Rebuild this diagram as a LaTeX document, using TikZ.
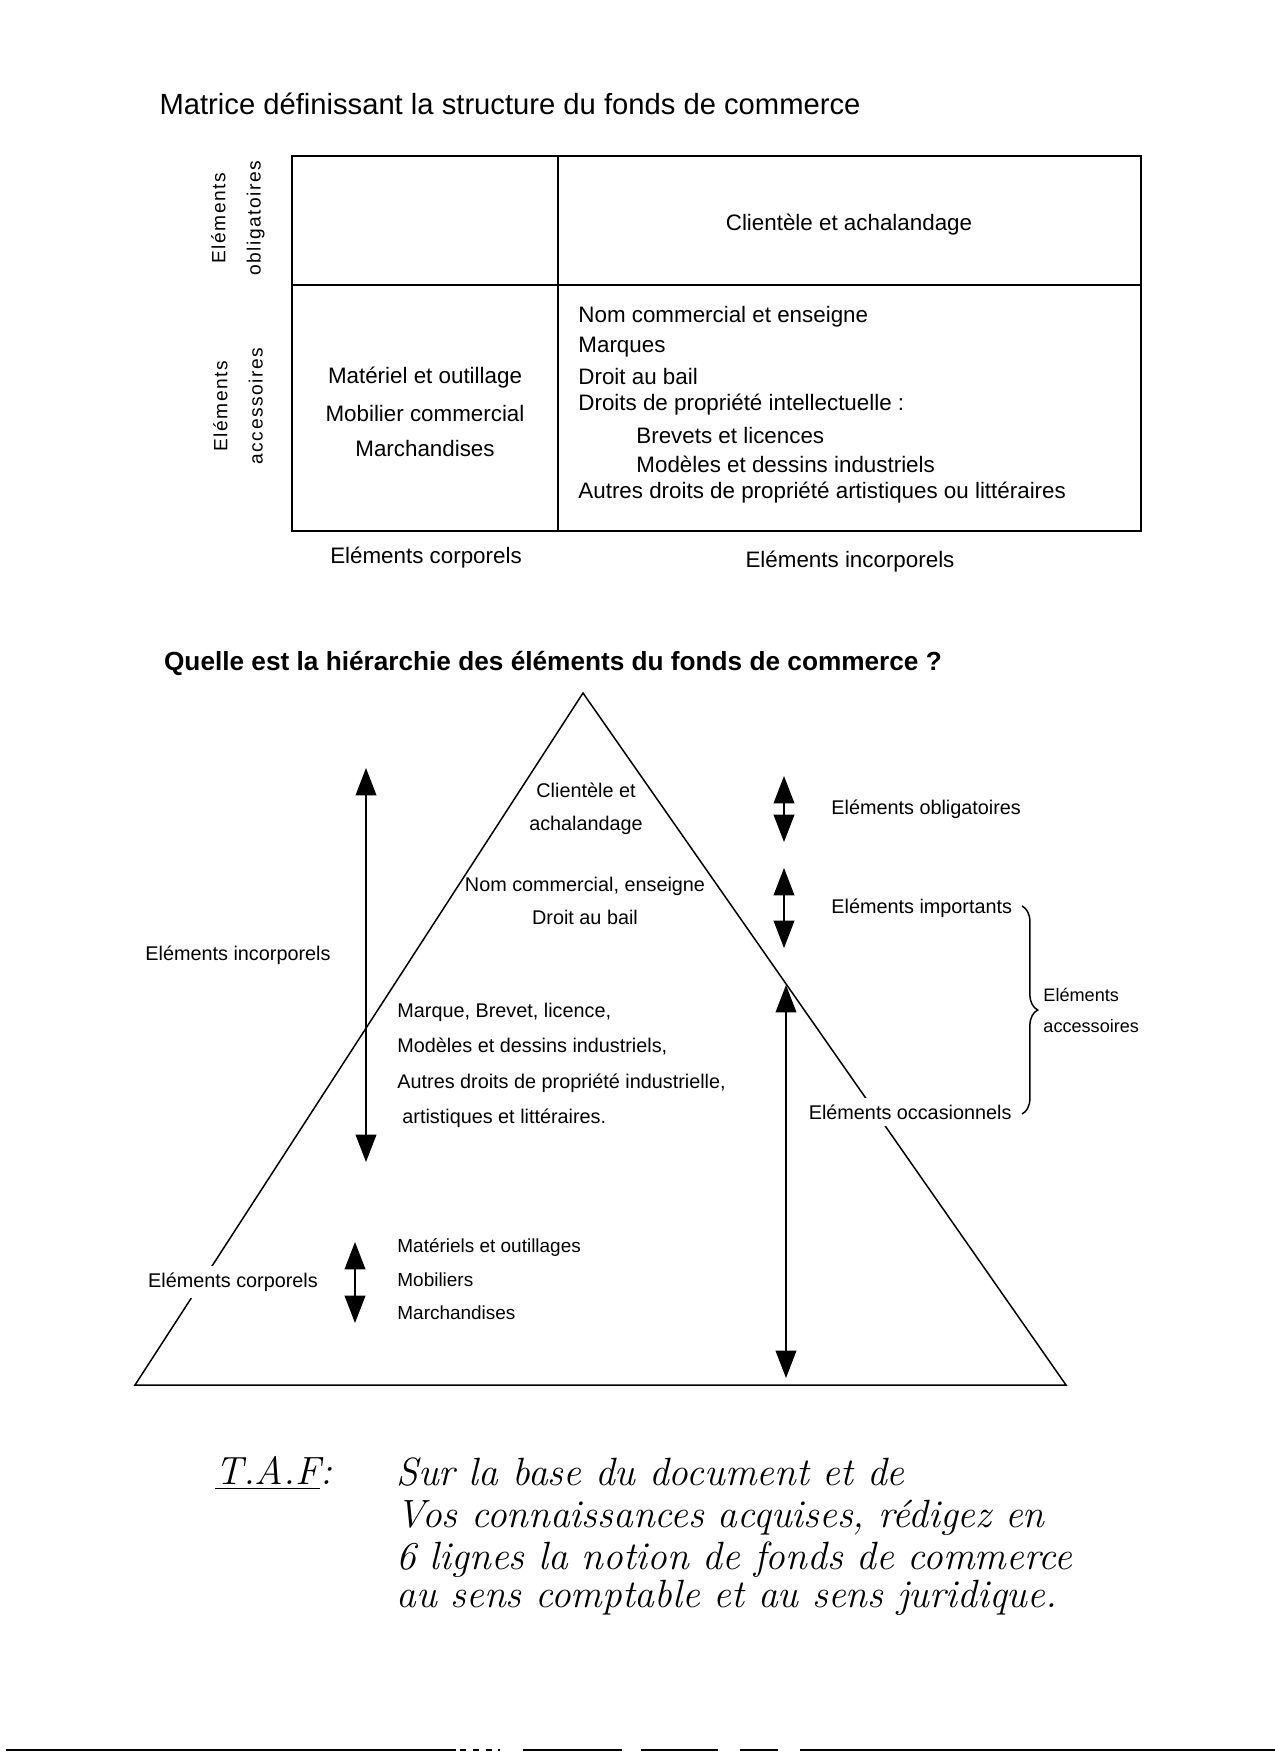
\documentclass[tikz,border=0pt]{standalone}
\usepackage{fontspec}
\setsansfont{Liberation Sans}
\newfontfamily\widesans{Liberation Sans}[LetterSpace=8]
\usepackage{tikz}
\usetikzlibrary{arrows.meta,decorations.pathreplacing}

\begin{document}
\begin{tikzpicture}[x=0.0165cm, y=-0.0165cm, font=\sffamily,
  mtx/.style={font=\sffamily\fontsize{10.5}{12.6}\selectfont, inner sep=0pt},
  pyr/.style={font=\sffamily\fontsize{9.3}{11}\selectfont, inner sep=0pt},
  side/.style={rotate=90, align=center, inner sep=0pt, font=\widesans\fontsize{9}{16.5}\selectfont},
  dbl/.style={{Triangle[length=0.45cm,width=0.34cm]}-{Triangle[length=0.45cm,width=0.34cm]}, line width=0.8pt},
  hand/.style={anchor=west, inner sep=0pt, font=\rmfamily\itshape\fontsize{18.5}{21}\selectfont}]
\useasboundingbox (0,0) rectangle (1275,1756);
% Matrix
\node[font=\sffamily\fontsize{13.7}{16}\selectfont] (title1) at (510,104) {Matrice définissant la structure du fonds de commerce};
\draw[line width=1pt] (292,156) rectangle (1141,531);
\draw[line width=1.4pt] (292,156) -- (1141,156);
\draw[line width=1pt] (292,285) -- (1141,285);
\draw[line width=1pt] (558,156) -- (558,531);
\node[side] (obl) at (238,218) {Eléments\\obligatoires};
\node[side] (acc) at (238,406) {Eléments\\accessoires};
\node[mtx] (client) at (849,225) {Clientèle et achalandage};
\node[mtx] (materiel) at (425,378) {Matériel et outillage};
\node[mtx] (mobilier) at (425,413) {Mobilier commercial};
\node[mtx] (marchand) at (425,448) {Marchandises};
\node[mtx, anchor=west] (nom) at (578,317) {Nom commercial et enseigne};
\node[mtx, anchor=west] (marques) at (578,347) {Marques};
\node[mtx, anchor=west] (bail) at (578,376) {Droit au bail};
\node[mtx, anchor=west] (droits) at (578,405) {Droits de propriété intellectuelle :};
\node[mtx, anchor=west] (brevets) at (636,435) {Brevets et licences};
\node[mtx, anchor=west] (modeles) at (636,464) {Modèles et dessins industriels};
\node[mtx, anchor=west] (autres) at (578,493) {Autres droits de propriété artistiques ou littéraires};
\node[mtx] (corp) at (426,558) {Eléments corporels};
\node[mtx] (incorp) at (850,562) {Eléments incorporels};

% Hierarchy pyramid
\node[font=\sffamily\bfseries\fontsize{12.3}{14}\selectfont] (title2) at (553,663) {Quelle est la hiérarchie des éléments du fonds de commerce ?};
\coordinate (apex) at (583,693);
\coordinate (baseL) at (135,1385);
\coordinate (baseR) at (1066,1385);
\draw[line width=0.7pt] (apex) -- (baseL) -- (baseR) -- cycle;
\node[pyr] (pclient) at (586,790) {Clientèle et};
\node[pyr] (pachal) at (586,825) {achalandage};
\node[pyr] (pnom) at (585,886) {Nom commercial, enseigne};
\node[pyr] (pbail) at (585,917) {Droit au bail};
\node[pyr, anchor=west] (pmarque) at (397,1012) {Marque, Brevet, licence,};
\node[pyr, anchor=west] (pmodele) at (397,1046) {Modèles et dessins industriels,};
\node[pyr, anchor=west] (pautres) at (397,1083) {Autres droits de propriété industrielle,};
\node[pyr, anchor=west] (partist) at (402,1118) {artistiques et littéraires.};
\node[pyr, font=\sffamily\fontsize{8.9}{11}\selectfont, anchor=west] (pmat) at (397,1247) {Matériels et outillages};
\node[pyr, font=\sffamily\fontsize{8.9}{11}\selectfont, anchor=west] (pmob) at (397,1280) {Mobiliers};
\node[pyr, font=\sffamily\fontsize{8.9}{11}\selectfont, anchor=west] (pmarch) at (397,1313) {Marchandises};
\node[pyr] (lincorp) at (238,955) {Eléments incorporels};
\node[pyr, fill=white, inner sep=3pt] (lcorp) at (233,1282) {Eléments corporels};
\node[pyr, anchor=west] (robl) at (831,809) {Eléments obligatoires};
\node[pyr, anchor=west] (rimp) at (831,908) {Eléments importants};
\node[pyr, anchor=west, fill=white, inner sep=3pt] (rocc) at (802,1112) {Eléments occasionnels};
\node[pyr, anchor=west, align=left, font=\sffamily\fontsize{8.5}{14.5}\selectfont] (racc) at (1043,1010) {Eléments\\accessoires};

% Arrows
\coordinate (incTop) at (366,768);
\coordinate (incBot) at (366,1162);
\coordinate (oblTop) at (784,776);
\coordinate (oblBot) at (784,842);
\coordinate (impTop) at (784,868);
\coordinate (impBot) at (784,948);
\coordinate (occTop) at (786,985);
\coordinate (occBot) at (786,1378);
\coordinate (corTop) at (355,1242);
\coordinate (corBot) at (355,1323);
\draw[dbl] (incTop) -- (incBot);
\draw[dbl] (oblTop) -- (oblBot);
\draw[dbl] (impTop) -- (impBot);
\draw[dbl] (occTop) -- (occBot);
\draw[dbl] (corTop) -- (corBot);
\coordinate (brTop) at (1022,906);
\coordinate (brBot) at (1022,1114);
\draw[line width=0.7pt, decorate, decoration={brace, amplitude=0.26cm}] (brTop) -- (brBot);

% T.A.F
\node[hand] (taf) at (215,1473) {\underline{T.A.F}:};
\node[hand] (l1) at (396,1472) {Sur la base du document et de};
\node[hand] (l2) at (396,1518) {Vos connaissances acquises, rédigez en};
\node[hand] (l3) at (396,1560) {6 lignes la notion de fonds de commerce};
\node[hand] (l4) at (396,1598) {au sens comptable et au sens juridique.};

% footer rule
\draw[line width=0.6pt] (6,1750) -- (456,1750);
\draw[line width=0.6pt, dashed] (460,1750) -- (500,1750);
\draw[line width=0.6pt] (523,1750) -- (622,1750);
\draw[line width=0.6pt] (641,1750) -- (718,1750);
\draw[line width=0.6pt] (740,1750) -- (778,1750);
\draw[line width=0.6pt] (800,1750) -- (1275,1750);
\end{tikzpicture}
\end{document}
